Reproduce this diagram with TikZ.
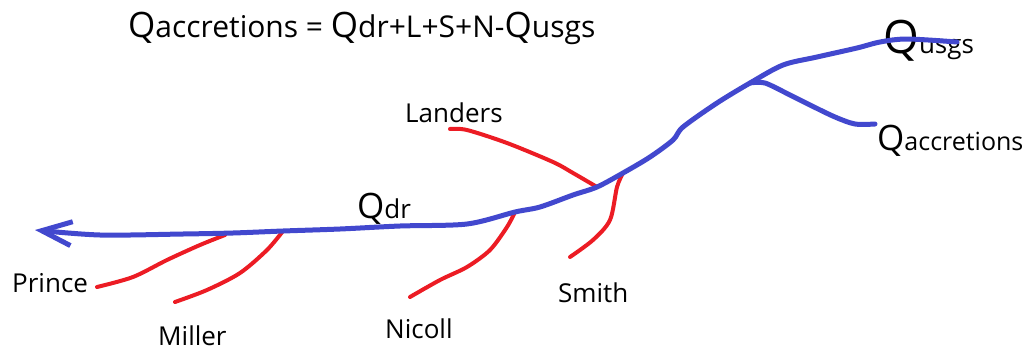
\documentclass[tikz,border=0pt]{standalone}
\usepackage{fontspec}
\setmainfont{Open Sans}
\usetikzlibrary{arrows.meta}
\definecolor{riverblue}{RGB}{66,72,206}
\definecolor{creekred}{RGB}{236,28,36}
% big Q for the flow names
\newcommand{\qflow}[2]{{\fontsize{#1}{#1}\selectfont Q}#2}
\begin{document}
\begin{tikzpicture}[x=1pt,y=-1pt,
    river/.style={draw=riverblue,line width=5pt,line cap=round,line join=round},
    creek/.style={draw=creekred,line width=4pt,line cap=round,line join=round},
    lbl/.style={font=\fontsize{26}{30}\selectfont,inner sep=0pt,anchor=base west}]
    \useasboundingbox (0,0) rectangle (1031,351);
    % equation
    \node[lbl,font=\fontsize{30}{32}\selectfont] (eqn) at (128,37)
        {\qflow{35}{accretions} = \qflow{35}{dr}+L+S+N-\qflow{35}{usgs}};
    % flow labels
    \node[lbl] (qusgs) at (883,53) {\qflow{46}{usgs}};
    \node[lbl,font=\fontsize{25}{30}\selectfont] (qacc) at (877,150) {\qflow{35}{accretions}};
    \node[lbl] (qdr) at (357,218) {\qflow{35}{dr}};
    % creek labels
    \node[lbl] (landers) at (405,122) {Landers};
    \node[lbl] (smith) at (558,302) {Smith};
    \node[lbl] (nicoll) at (385,338) {Nicoll};
    \node[lbl] (prince) at (12,292) {Prince};
    \node[lbl] (miller) at (158,345) {Miller};
    % ends and junctions
    \coordinate (usgs end) at (957,42);
    \coordinate (acc end) at (875,124);
    \coordinate (fork) at (750,83);
    \coordinate (tip) at (35,230);
    \coordinate (j landers) at (597,187);
    \coordinate (j smith) at (623,173);
    \coordinate (j nicoll) at (515,212);
    \coordinate (j prince) at (225,235);
    \coordinate (j miller) at (283,231);
    % creeks
    \draw[creek] plot[smooth] coordinates {(450,129) (467,130) (507,143) (553,162) (573,173) (j landers)};
    \draw[creek] plot[smooth] coordinates {(j smith) (617,187) (610,220) (593,240) (570,257)};
    \draw[creek] plot[smooth] coordinates {(j nicoll) (507,227) (490,250) (467,267) (440,280) (410,297)};
    \draw[creek] plot[smooth] coordinates {(j prince) (200,245) (167,260) (133,277) (97,287)};
    \draw[creek] plot[smooth] coordinates {(j miller) (267,250) (240,273) (207,290) (175,302)};
    % river
    \draw[river] plot[smooth] coordinates {(fork) (765,83) (790,95) (810,105) (835,117) (855,124) (acc end)};
    \draw[river,-{Straight Barb[length=30pt,width=24pt]}] plot[smooth,tension=0.5] coordinates {(usgs end) (907,39) (880,42) (857,48) (817,57) (783,65) (fork) (717,103) (683,127) (673,140) (650,157) (j smith) (j landers) (573,195) (540,207) (j nicoll) (467,224) (400,226) (340,229) (j miller) (233,233) (183,234) (100,235) (tip)};
\end{tikzpicture}
\end{document}
